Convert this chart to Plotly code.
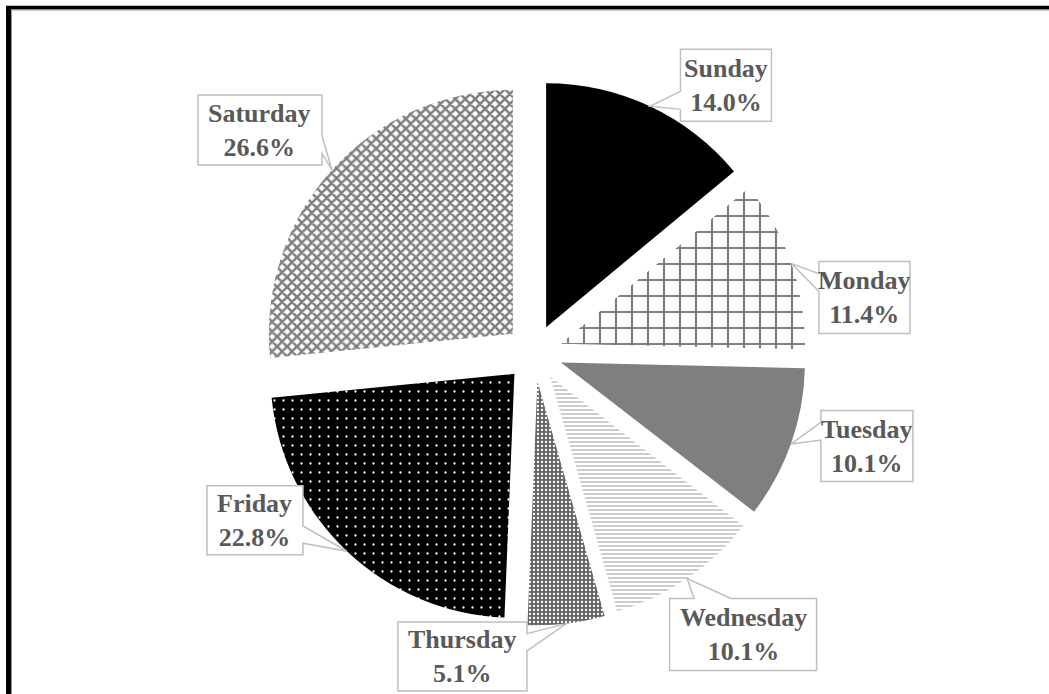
import math
import plotly.graph_objects as go

# ---- data ----
days = ["Sunday", "Monday", "Tuesday", "Wednesday", "Thursday", "Friday", "Saturday"]
shares = [14.0, 11.4, 10.1, 10.1, 5.1, 22.8, 26.6]

# ---- styles ----
W, H = 1049, 694
base_colors = ["#000000", "#ffffff", "#7f7f7f", "#ffffff", "#666666", "#000000", "#ffffff"]
pat_shapes = ["", "+", "", "-", ".", ".", "x"]
pat_fg = ["#000000", "#7f7f7f", "#7f7f7f", "#c8c8c8", "#ffffff", "#ffffff", "#7f7f7f"]
pat_bg = ["#000000", "#ffffff", "#7f7f7f", "#ffffff", "#666666", "#000000", "#ffffff"]
pat_size = [8, 16, 8, 4, 4, 9, 7]
pat_solid = [0.3, 0.25, 0.3, 0.45, 0.25, 0.05, 0.6]

# label box offsets (px, from slice edge point to box centre) and box sizes (px)
lab_dx = [76, 73, 76, 56, -104, -92, -72]
lab_dy = [-21, 34, 2, 56, 33, -31, -40]
box_w = [91, 91, 92, 147, 129, 96, 124]
box_h = [72, 72, 71, 72, 69, 69, 70]

# pie geometry (px)
cx_px, cy_px = 534, 353
radius_px = 244
pull = 0.117
half = radius_px * (1 + pull)
dom_x = [(cx_px - half) / W, (cx_px + half) / W]
dom_y = [1 - (cy_px + half) / H, 1 - (cy_px - half) / H]

fig = go.Figure(go.Pie(
    labels=days,
    values=shares,
    sort=False,
    direction="clockwise",
    rotation=0,
    pull=[pull] * len(shares),
    textinfo="none",
    hoverinfo="label+percent",
    showlegend=False,
    domain=dict(x=dom_x, y=dom_y),
    marker=dict(
        colors=base_colors,
        line=dict(width=0),
        pattern=dict(
            shape=pat_shapes,
            fgcolor=pat_fg,
            bgcolor=pat_bg,
            size=pat_size,
            solidity=pat_solid,
            fillmode="replace",
        ),
    ),
))

def to_paper(x, y):
    return x / W, 1 - y / H

shapes = []
annotations = []
total = sum(shares)
cum = 0.0
for i, (d, v) in enumerate(zip(days, shares)):
    mid = (cum + v / 2) / total * 2 * math.pi
    cum += v
    tip_r = radius_px * (1 + pull)
    tx = cx_px + tip_r * math.sin(mid)
    ty = cy_px - tip_r * math.cos(mid)
    bx = tx + lab_dx[i]
    by = ty + lab_dy[i]
    hw, hh = box_w[i] / 2, box_h[i] / 2
    L, R, T, B = bx - hw, bx + hw, by - hh, by + hh
    dx, dy = tx - bx, ty - by
    x1 = L + box_w[i] * (7 if dx > 0 else 2) / 12
    x2 = L + box_w[i] * (10 if dx > 0 else 5) / 12
    y1 = T + box_h[i] * (7 if dy > 0 else 2) / 12
    y2 = T + box_h[i] * (10 if dy > 0 else 5) / 12
    vertical = abs(dy) / box_h[i] > abs(dx) / box_w[i]
    pts = [(L, T)]
    if vertical and dy < 0:
        pts += [(x1, T), (tx, ty), (x2, T)]
    pts.append((R, T))
    if not vertical and dx > 0:
        pts += [(R, y1), (tx, ty), (R, y2)]
    pts.append((R, B))
    if vertical and dy > 0:
        pts += [(x2, B), (tx, ty), (x1, B)]
    pts.append((L, B))
    if not vertical and dx < 0:
        pts += [(L, y2), (tx, ty), (L, y1)]
    path = "M " + " L ".join("%.5f,%.5f" % to_paper(px, py) for px, py in pts) + " Z"
    shapes.append(dict(type="path", path=path, xref="paper", yref="paper",
                       fillcolor="#ffffff", line=dict(color="#bfbfbf", width=1.5),
                       layer="above"))
    ax_, ay_ = to_paper(bx, by)
    annotations.append(dict(
        x=ax_, y=ay_, xref="paper", yref="paper", showarrow=False,
        xanchor="center", yanchor="middle",
        text="<b>%s</b><br><b>%.1f%%</b>" % (d, v),
        font=dict(family="Liberation Serif", size=26, color="#595959"),
    ))

# outer frame (top and left edges visible)
shapes.append(dict(type="line", xref="paper", yref="paper",
                   x0=6 / W, x1=1.01, y0=1 - 7.6 / H, y1=1 - 7.6 / H,
                   line=dict(color="#000000", width=3.6), layer="above"))
shapes.append(dict(type="line", xref="paper", yref="paper",
                   x0=8.5 / W, x1=8.5 / W, y0=1 - 6 / H, y1=-0.01,
                   line=dict(color="#000000", width=5), layer="above"))
shapes.append(dict(type="line", xref="paper", yref="paper",
                   x0=11.5 / W, x1=1.01, y0=1 - 10 / H, y1=1 - 10 / H,
                   line=dict(color="#9a9a9a", width=1), layer="above"))
shapes.append(dict(type="line", xref="paper", yref="paper",
                   x0=11.5 / W, x1=11.5 / W, y0=1 - 10 / H, y1=-0.01,
                   line=dict(color="#9a9a9a", width=1), layer="above"))

fig.update_layout(
    width=W, height=H,
    margin=dict(l=0, r=0, t=0, b=0),
    paper_bgcolor="#ffffff",
    plot_bgcolor="#ffffff",
    shapes=shapes,
    annotations=annotations,
)

fig.write_html(
    "out.html",
    config={"displayModeBar": False},
    post_script="document.body.style.margin='0px';document.body.style.overflow='hidden';",
)
